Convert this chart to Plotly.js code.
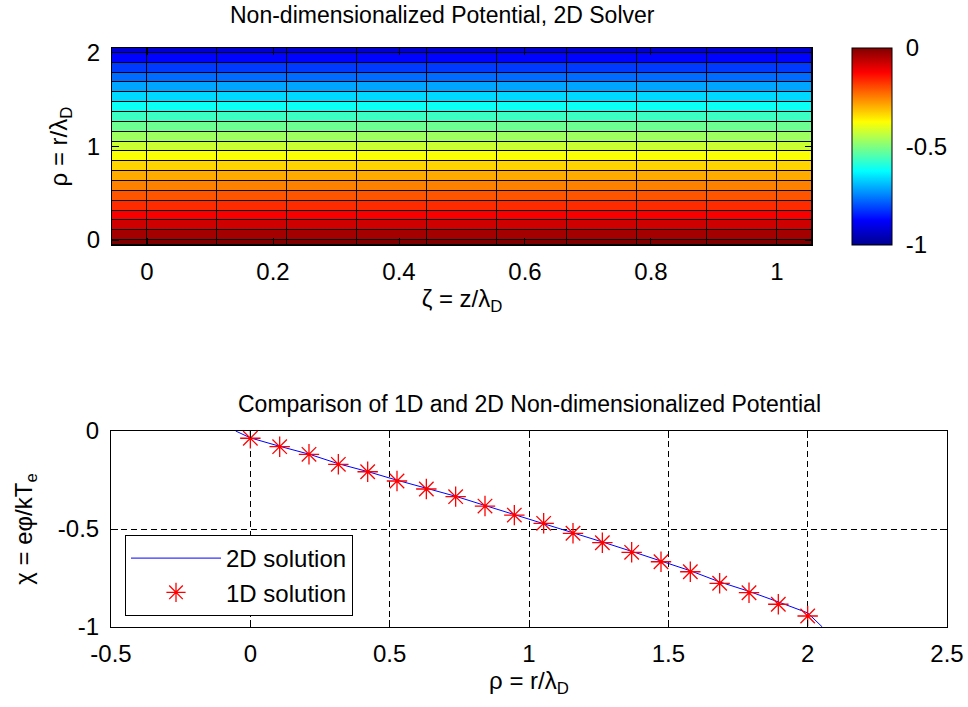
<!DOCTYPE html>
<html>
<head>
<meta charset="utf-8">
<script src="https://cdn.plot.ly/plotly-3.0.1.min.js"></script>
<style>html,body{margin:0;padding:0;background:#fff;}#chart{width:968px;height:707px;}</style>
</head>
<body>
<div id="chart"></div>
<script>
// ---- data ----
// zeta cell edges (nodes 0..1 in steps of 1/9, plus half-cell ghost edges)
const zetaEdges = [-0.0556, 0, 0.1111, 0.2222, 0.3333, 0.4444, 0.5556, 0.6667, 0.7778, 0.8889, 1, 1.0556];
// rho positions of the 2D solution (20 nodes 0..2 plus ghost ends)
const rho2D = [-0.0526, 0, 0.1053, 0.2105, 0.3158, 0.4211, 0.5263, 0.6316, 0.7368, 0.8421, 0.9474,
               1.0526, 1.1579, 1.2632, 1.3684, 1.4737, 1.5789, 1.6842, 1.7895, 1.8947, 2, 2.0526];
const chi2D = [0, -0.035, -0.078, -0.118, -0.167, -0.207, -0.251, -0.293, -0.333, -0.380, -0.426,
               -0.470, -0.518, -0.566, -0.614, -0.662, -0.713, -0.770, -0.818, -0.872, -0.928, -1];
// 1D solution
const rho1D = [0, 0.1053, 0.2105, 0.3158, 0.4211, 0.5263, 0.6316, 0.7368, 0.8421, 0.9474,
               1.0526, 1.1579, 1.2632, 1.3684, 1.4737, 1.5789, 1.6842, 1.7895, 1.8947, 2];
const chi1D = [-0.037, -0.080, -0.119, -0.170, -0.208, -0.255, -0.296, -0.335, -0.383, -0.429,
               -0.471, -0.522, -0.570, -0.619, -0.667, -0.718, -0.777, -0.825, -0.884, -0.944];
// tick labels
const topXTicks = [0, 0.2, 0.4, 0.6, 0.8, 1];
const topXLabels = ['0', '0.2', '0.4', '0.6', '0.8', '1'];
const topYTicks = [0, 1, 2];
const topYLabels = ['0', '1', '2'];
const cbTicks = [-1, -0.5, 0];
const cbLabels = ['-1', '-0.5', '0'];
const botXTicks = [-0.5, 0, 0.5, 1, 1.5, 2, 2.5];
const botXLabels = ['-0.5', '0', '0.5', '1', '1.5', '2', '2.5'];
const botYTicks = [-1, -0.5, 0];
const botYLabels = ['-1', '-0.5', '0'];

// potential grid: each rho band takes the value at its lower node, uniform in zeta
const nCols = zetaEdges.length - 1;
const zGrid = chi2D.slice(0, rho2D.length - 1).map(v => Array(nCols).fill(v));

const jet = [[0, 'rgb(0,0,143)'], [0.125, 'rgb(0,0,255)'], [0.375, 'rgb(0,255,255)'],
             [0.625, 'rgb(255,255,0)'], [0.875, 'rgb(255,0,0)'], [1, 'rgb(128,0,0)']];

const FONT = 'Liberation Sans, Arial, Helvetica, sans-serif';
const FS = 24;

const traces = [
  {
    type: 'heatmap', x: zetaEdges, y: rho2D, z: zGrid, xaxis: 'x', yaxis: 'y',
    colorscale: jet, zmin: -1, zmax: 0, xgap: 1, ygap: 1, showlegend: false, hoverinfo: 'skip',
    colorbar: {
      x: 852/968, xanchor: 'left', y: 1 - 48/707, yanchor: 'top',
      len: 197/707, lenmode: 'fraction', thickness: 40, thicknessmode: 'pixels',
      outlinecolor: 'black', outlinewidth: 1, xpad: 0, ypad: 0,
      tickvals: cbTicks, ticktext: cbLabels, ticks: 'outside', ticklen: 9, tickcolor: 'rgba(0,0,0,0)',
      tickfont: {family: FONT, size: FS, color: 'black'}
    }
  },
  {
    type: 'scatter', mode: 'lines', name: '2D solution', x: rho2D, y: chi2D,
    xaxis: 'x2', yaxis: 'y2', line: {color: '#0000ff', width: 1}
  },
  {
    type: 'scatter', mode: 'markers', name: '1D solution', x: rho1D, y: chi1D,
    xaxis: 'x2', yaxis: 'y2',
    marker: {symbol: 'asterisk-open', size: 17, color: '#ff0000', line: {color: '#ff0000', width: 1.3}}
  }
];

const axBase = {
  ticks: 'inside', ticklen: 7, tickcolor: 'black', showline: true, linecolor: 'black', linewidth: 1,
  mirror: 'ticks', zeroline: false, tickfont: {family: FONT, size: FS, color: 'black'},
  tickmode: 'array', fixedrange: true
};

const layout = {
  width: 968, height: 707,
  margin: {l: 0, r: 0, t: 0, b: 0},
  paper_bgcolor: 'white', plot_bgcolor: 'white',
  font: {family: FONT, size: FS, color: 'black'},
  showlegend: true,
  legend: {
    x: 125/968, xanchor: 'left', y: 1 - 535/707, yanchor: 'top',
    bgcolor: 'white', bordercolor: 'black', borderwidth: 1,
    font: {family: FONT, size: FS, color: 'black'}, itemwidth: 90, tracegroupgap: 0
  },
  xaxis: Object.assign({}, axBase, {
    domain: [112/968, 812/968], range: [-0.0556, 1.0556], anchor: 'y',
    tickvals: topXTicks, ticktext: topXLabels, showgrid: false, ticklabelstandoff: 5,
    title: {text: 'ζ = z/λ<sub>D</sub>', font: {family: FONT, size: FS}, standoff: 6}
  }),
  yaxis: Object.assign({}, axBase, {
    domain: [1 - 245/707, 1 - 48/707], range: [-0.0526, 2.0526], anchor: 'x',
    tickvals: topYTicks, ticktext: topYLabels, showgrid: false, ticklabelstandoff: 6,
    title: {text: 'ρ = r/λ<sub>D</sub>', font: {family: FONT, size: FS}, standoff: 12}
  }),
  xaxis2: Object.assign({}, axBase, {
    domain: [111/968, 947/968], range: [-0.5, 2.5], anchor: 'y2',
    tickvals: botXTicks, ticktext: botXLabels, showgrid: true, gridcolor: 'black', gridwidth: 1,
    griddash: '6px,4px', ticklabelstandoff: 5,
    title: {text: 'ρ = r/λ<sub>D</sub>', font: {family: FONT, size: FS}, standoff: 6}
  }),
  yaxis2: Object.assign({}, axBase, {
    domain: [1 - 627/707, 1 - 431/707], range: [-1, 0], anchor: 'x2',
    tickvals: botYTicks, ticktext: botYLabels, showgrid: true, gridcolor: 'black', gridwidth: 1,
    griddash: '6px,4px', ticklabelstandoff: 6,
    title: {text: 'χ = eφ/kT<sub>e</sub>', font: {family: FONT, size: FS}, standoff: 18}
  }),
  shapes: [
    {type: 'rect', xref: 'x domain', yref: 'y domain', x0: 0, x1: 1, y0: 0, y1: 1,
     fillcolor: 'black', line: {width: 0}, layer: 'below'}
  ],
  annotations: [
    {text: 'Non-dimensionalized Potential, 2D Solver', xref: 'paper', yref: 'paper',
     x: 442/968, y: 1 - 15/707, xanchor: 'center', yanchor: 'middle', showarrow: false,
     font: {family: FONT, size: 23, color: 'black'}},
    {text: 'Comparison of 1D and 2D Non-dimensionalized Potential', xref: 'paper', yref: 'paper',
     x: 529/968, y: 1 - 404/707, xanchor: 'center', yanchor: 'middle', showarrow: false,
     font: {family: FONT, size: 23, color: 'black'}}
  ]
};

Plotly.newPlot('chart', traces, layout, {displayModeBar: false, staticPlot: true});
</script>
</body>
</html>
